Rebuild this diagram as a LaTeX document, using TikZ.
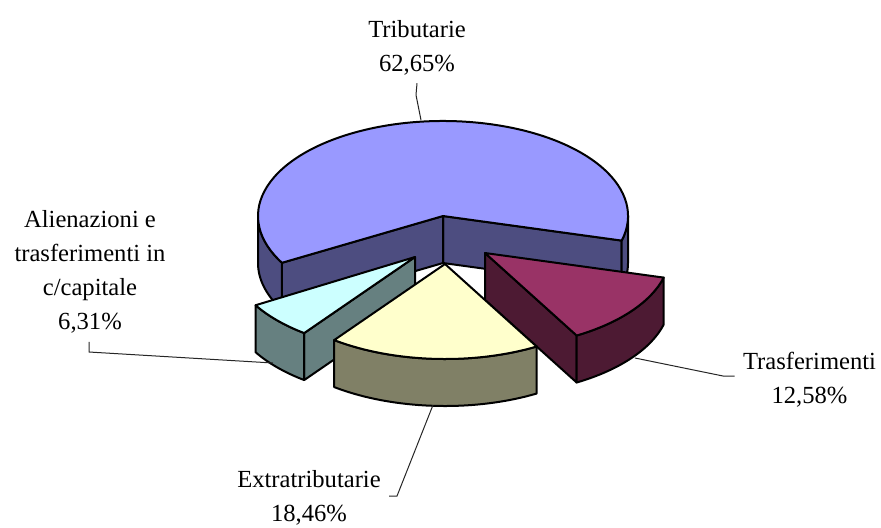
\documentclass[tikz,border=0pt]{standalone}
\usepackage{fontspec}
\setmainfont{Liberation Serif}
\usetikzlibrary{positioning}

\definecolor{tribtop}{RGB}{153,153,255}
\definecolor{tribside}{RGB}{77,77,128}
\definecolor{trasftop}{RGB}{153,51,102}
\definecolor{trasfside}{RGB}{77,26,51}
\definecolor{extratop}{RGB}{255,255,204}
\definecolor{extraside}{RGB}{128,128,102}
\definecolor{alientop}{RGB}{204,255,255}
\definecolor{alienside}{RGB}{102,128,128}

\begin{document}
\begin{tikzpicture}[x=0.5pt,y=0.5pt,
  slice/.style={draw=black,line width=1pt,line join=round},
  leader/.style={draw=black!85,line width=0.5pt},
  lab/.style={font=\labfont,align=center,inner sep=4pt}]

\def\labfont{\fontsize{12.3}{17}\selectfont}
\def\rx{185}
\def\ry{95}
\def\dep{47}

\useasboundingbox (0,0) rectangle (881,527);

% Tributarie
\begin{scope}[shift={(443,311)}]
\filldraw[slice,fill=tribside] (0,0) -- (-15:{\rx} and {\ry}) -- ++(0,-\dep) -- (0,-\dep) -- cycle;
\filldraw[slice,fill=tribside] (0,0) -- (209.5:{\rx} and {\ry}) -- ++(0,-\dep) -- (0,-\dep) -- cycle;
\filldraw[slice,fill=tribside] (180:{\rx} and {\ry}) arc[start angle=180,end angle=209.5,x radius=\rx,y radius=\ry]
  -- ++(0,-\dep) arc[start angle=209.5,end angle=180,x radius=\rx,y radius=\ry] -- cycle;
\filldraw[slice,fill=tribside] (-15:{\rx} and {\ry}) arc[start angle=-15,end angle=0,x radius=\rx,y radius=\ry]
  -- ++(0,-\dep) arc[start angle=0,end angle=-15,x radius=\rx,y radius=\ry] -- cycle;
\filldraw[slice,fill=tribtop] (0,0) -- (-15:{\rx} and {\ry}) arc[start angle=-15,end angle=209.5,x radius=\rx,y radius=\ry] -- cycle;
\end{scope}

% Alienazioni e trasferimenti in c/capitale
\begin{scope}[shift={(415,270)}]
\filldraw[slice,fill=alienside] (0,0) -- (-126.8:{\rx} and {\ry}) -- ++(0,-\dep) -- (0,-\dep) -- cycle;
\filldraw[slice,fill=alienside] (-149.5:{\rx} and {\ry}) arc[start angle=-149.5,end angle=-126.8,x radius=\rx,y radius=\ry]
  -- ++(0,-\dep) arc[start angle=-126.8,end angle=-149.5,x radius=\rx,y radius=\ry] -- cycle;
\filldraw[slice,fill=alientop] (0,0) -- (-149.5:{\rx} and {\ry}) arc[start angle=-149.5,end angle=-126.8,x radius=\rx,y radius=\ry] -- cycle;
\end{scope}

% Trasferimenti
\begin{scope}[shift={(485,274)}]
\filldraw[slice,fill=trasfside] (0,0) -- (-60.3:{\rx} and {\ry}) -- ++(0,-\dep) -- (0,-\dep) -- cycle;
\filldraw[slice,fill=trasfside] (-60.3:{\rx} and {\ry}) arc[start angle=-60.3,end angle=-15,x radius=\rx,y radius=\ry]
  -- ++(0,-\dep) arc[start angle=-15,end angle=-60.3,x radius=\rx,y radius=\ry] -- cycle;
\filldraw[slice,fill=trasftop] (0,0) -- (-60.3:{\rx} and {\ry}) arc[start angle=-60.3,end angle=-15,x radius=\rx,y radius=\ry] -- cycle;
\end{scope}

% Extratributarie
\begin{scope}[shift={(445,263)}]
\filldraw[slice,fill=extraside] (-126.8:{\rx} and {\ry}) arc[start angle=-126.8,end angle=-60.3,x radius=\rx,y radius=\ry]
  -- ++(0,-\dep) arc[start angle=-60.3,end angle=-126.8,x radius=\rx,y radius=\ry] -- cycle;
\filldraw[slice,fill=extratop] (0,0) -- (-126.8:{\rx} and {\ry}) arc[start angle=-126.8,end angle=-60.3,x radius=\rx,y radius=\ry] -- cycle;
\end{scope}

% labels
\node[lab] (trib) at (417,479.6) {Tributarie\\62,65\%};
\node[lab] (trasf) at (809.5,147.7) {Trasferimenti\\12,58\%};
\node[lab] (extra) at (309,29) {Extratributarie\\18,46\%};
\node[lab] (alien) at (90,255) {Alienazioni e\\trasferimenti in\\c/capitale\\6,31\%};

\coordinate (tribBend) at (416,432);
\coordinate (tribTip) at (421,407);
\coordinate (trasfBend) at (723,151);
\coordinate (trasfTip) at (635,169);
\coordinate (extraBend) at (397,31);
\coordinate (extraTip) at (433,122);
\coordinate (alienBend) at (89,175);
\coordinate (alienTip) at (273,164);

\draw[leader] (trib.south) -- (tribBend) -- (tribTip);
\draw[leader] (trasf.west |- trasfBend) -- (trasfBend) -- (trasfTip);
\draw[leader] (extra.east |- extraBend) -- (extraBend) -- (extraTip);
\draw[leader] (alien.south -| alienBend) -- (alienBend) -- (alienTip);
\end{tikzpicture}
\end{document}
